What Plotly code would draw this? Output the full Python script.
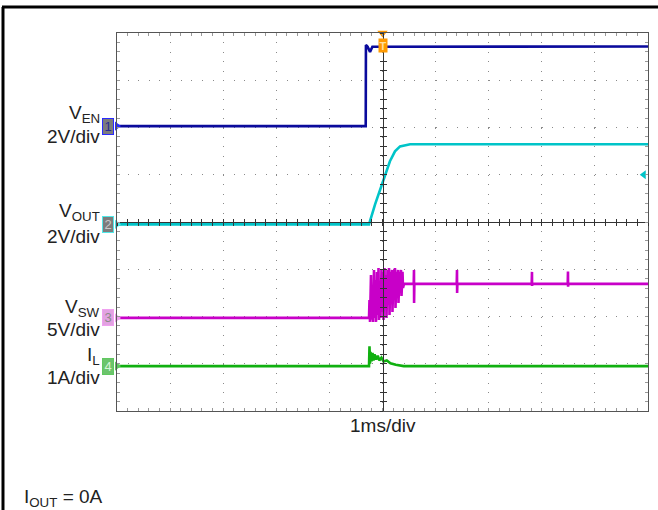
import plotly.graph_objects as go

# ---- data (time in ms, 1 ms/div; values in physical units) ----
t_range = [-5, 5]
div_range = [-4, 4]

# channel settings: scale per division, offset (div) of the channel's ground marker
ch_names = ["V<sub>EN</sub>", "V<sub>OUT</sub>", "V<sub>SW</sub>", "I<sub>L</sub>"]
ch_scales_txt = ["2V/div", "2V/div", "5V/div", "1A/div"]
ch_scale = [2.0, 2.0, 5.0, 1.0]
ch_offset = [2.03, -0.05, -2.03, -3.05]
ch_color = ["#0a0a9c", "#00c4c8", "#c800c8", "#10b010"]

ven_t = [-5, -0.316, -0.312, -0.28, -0.235, -0.19, 5]
ven_v = [0.0, 0.0, 3.43, 3.36, 3.14, 3.36, 3.37]

vout_t = [-5, -0.254, -0.14, -0.047, 0.047, 0.14, 0.235, 0.33, 0.52, 5]
vout_v = [0.0, 0.0, 0.85, 1.48, 2.12, 2.67, 3.09, 3.30, 3.39, 3.39]

vsw_t = [-5, -0.254, -0.245, -0.235, -0.217, -0.207, -0.188, -0.179, -0.160, -0.151,
         -0.132, -0.122, -0.104, -0.094, -0.075, -0.066, -0.047, -0.038, -0.019, -0.009,
         0.009, 0.019, 0.038, 0.047, 0.066, 0.075, 0.094, 0.104, 0.122, 0.132,
         0.151, 0.160, 0.179, 0.188, 0.207, 0.217, 0.235, 0.245, 0.264, 0.273,
         0.292, 0.301, 0.320, 0.330, 0.348, 0.358, 0.377, 0.386, 0.405,
         0.588, 0.593, 0.595, 0.600,
         1.398, 1.403, 1.405, 1.410,
         2.810, 2.815, 2.817, 2.822,
         3.488, 3.493, 3.495, 3.500, 5]
vsw_v = [0.0, 0.0, 1.9, -0.42, 4.55, -0.2, 2.96, -0.42, 5.08, 0.0,
         4.0, -0.42, 4.87, 0.32, 5.29, -0.21, 3.49, 0.0, 5.08, 0.63,
         4.87, -0.21, 5.29, 1.38, 4.55, 0.0, 5.08, 1.9, 5.29, 0.32,
         4.87, 2.33, 5.08, 0.63, 5.08, 1.9, 5.29, 1.06, 4.87, 2.75,
         5.08, 1.59, 4.87, 2.96, 5.08, 2.33, 4.87, 3.17, 3.6,
         3.6, 5.08, 1.59, 3.6,
         3.6, 5.08, 2.64, 3.6,
         3.6, 4.87, 3.39, 3.6,
         3.6, 4.9, 3.3, 3.6, 3.6]

il_t = [-5, -0.254, -0.245, -0.235, -0.226, -0.207, -0.188, -0.17, -0.15, -0.12,
        -0.09, -0.06, -0.02, 0.02, 0.08, 0.15, 0.25, 0.40, 5]
il_a = [0.0, 0.0, 0.42, 0.05, 0.30, 0.10, 0.28, 0.12, 0.25, 0.14,
        0.22, 0.12, 0.18, 0.10, 0.12, 0.06, 0.03, 0.0, 0.0]

trig_level_t = 4.92      # ch2 trigger level marker on the right edge
trig_level_div = 1.0

series = [(ven_t, ven_v), (vout_t, vout_v), (vsw_t, vsw_v), (il_t, il_a)]

FONT = "Arial, Liberation Sans, sans-serif"
fig = go.Figure()

for i, (tt, vv) in enumerate(series):
    yy = [ch_offset[i] + v / ch_scale[i] for v in vv]
    fig.add_trace(go.Scatter(x=tt, y=yy, mode="lines",
                             line=dict(color=ch_color[i], width=2.6),
                             hoverinfo="skip", showlegend=False))

# trigger markers
fig.add_trace(go.Scatter(x=[0], y=[div_range[1]], mode="markers", cliponaxis=False,
                         marker=dict(symbol="triangle-down", size=9, color="#ff9a00"),
                         hoverinfo="skip", showlegend=False))
fig.add_trace(go.Scatter(x=[trig_level_t], y=[trig_level_div], mode="markers",
                         cliponaxis=False,
                         marker=dict(symbol="triangle-left", size=8, color=ch_color[1]),
                         hoverinfo="skip", showlegend=False))
box_fill = ["#7c7c7c", "#7c7c7c", "#e2a2e2", "#6cc46c"]
box_border = ["#2a2aff", "#50e8e8", "#f0a0f0", "#60c860"]
box_text = ["#2a2a90", "#c8c8c8", "#8a8a8a", "#d8f4d8"]
# channel arrow tips
for i in range(4):
    fig.add_trace(go.Scatter(x=[t_range[0]], y=[ch_offset[i]], mode="markers",
                             cliponaxis=False,
                             marker=dict(symbol="triangle-right", size=8,
                                         color=box_border[i]),
                             hoverinfo="skip", showlegend=False))

# dummy traces for crosshair axes
for xa, ya in [("x2", "y2"), ("x3", "y3")]:
    fig.add_trace(go.Scatter(x=[None], y=[None], xaxis=xa, yaxis=ya,
                             showlegend=False, hoverinfo="skip"))

axis_common = dict(showticklabels=False, zeroline=False, fixedrange=True)

fig.update_layout(
    width=658, height=510,
    margin=dict(l=117, r=10, t=33, b=99),
    paper_bgcolor="white", plot_bgcolor="white",
    xaxis=dict(range=t_range, dtick=1, showgrid=True, gridcolor="#8a8a8a",
               griddash="1px,8.45px", gridwidth=1,
               showline=True, linecolor="#555555", linewidth=1, mirror="ticks",
               ticks="inside", ticklen=3, tickcolor="#999999",
               minor=dict(dtick=0.2, ticks="inside", ticklen=3, tickcolor="#999999",
                          showgrid=False),
               **axis_common),
    yaxis=dict(range=div_range, dtick=1, showgrid=True, gridcolor="#8a8a8a",
               griddash="1px,9.62px", gridwidth=1,
               showline=True, linecolor="#555555", linewidth=1, mirror="ticks",
               ticks="inside", ticklen=3, tickcolor="#999999",
               minor=dict(dtick=0.2, ticks="inside", ticklen=3, tickcolor="#999999",
                          showgrid=False),
               **axis_common),
    xaxis2=dict(range=t_range, overlaying="x", anchor="free", position=0.5,
                showgrid=False, showline=True, linecolor="#333333", linewidth=1,
                ticks="outside", ticklen=3, tickcolor="#333333",
                minor=dict(dtick=0.2, ticks="outside", ticklen=3, tickcolor="#333333"),
                **axis_common),
    yaxis2=dict(range=div_range, overlaying="y", anchor="free", position=0.5,
                showgrid=False, showline=True, linecolor="#333333", linewidth=1,
                ticks="outside", ticklen=3, tickcolor="#333333",
                minor=dict(dtick=0.2, ticks="outside", ticklen=3, tickcolor="#333333"),
                **axis_common),
    xaxis3=dict(range=t_range, overlaying="x", anchor="free", position=0.5,
                showgrid=False, showline=False,
                ticks="inside", ticklen=3, tickcolor="#333333",
                minor=dict(dtick=0.2, ticks="inside", ticklen=3, tickcolor="#333333"),
                **axis_common),
    yaxis3=dict(range=div_range, overlaying="y", anchor="free", position=0.5,
                showgrid=False, showline=False,
                ticks="inside", ticklen=3, tickcolor="#333333",
                minor=dict(dtick=0.2, ticks="inside", ticklen=3, tickcolor="#333333"),
                **axis_common),
)

# frame lines of the figure box
fig.add_shape(type="line", xref="paper", yref="paper", x0=-0.2166, x1=1.02,
              y0=1.0688, y1=1.0688, line=dict(color="black", width=3))
fig.add_shape(type="line", xref="paper", yref="paper", x0=-0.2147, x1=-0.2147,
              y0=1.0688, y1=-0.27, line=dict(color="black", width=3))

# channel labels and markers
name_shift = [12, 12, 10, 10]
scale_shift = [-10, -12, -12, -11]
for i in range(4):
    fig.add_annotation(x=t_range[0], y=ch_offset[i], xref="x", yref="y",
                       text=ch_names[i], showarrow=False, xanchor="right",
                       yanchor="middle", xshift=-16, yshift=name_shift[i],
                       borderpad=0,
                       font=dict(family=FONT, size=19, color="#222222"))
    fig.add_annotation(x=t_range[0], y=ch_offset[i], xref="x", yref="y",
                       text=ch_scales_txt[i], showarrow=False, xanchor="right",
                       yanchor="middle", xshift=-16, yshift=scale_shift[i],
                       borderpad=0,
                       font=dict(family=FONT, size=19, color="#222222"))
    fig.add_annotation(x=t_range[0], y=ch_offset[i], xref="x", yref="y",
                       text=str(i + 1), showarrow=False, xanchor="right",
                       yanchor="middle", xshift=-3, width=10, height=15,
                       bgcolor=box_fill[i], bordercolor=box_border[i], borderwidth=1,
                       borderpad=0,
                       font=dict(family=FONT, size=13, color=box_text[i]))

# trigger "T" marker
fig.add_annotation(x=0, y=div_range[1], xref="x", yref="y", text="<b>T</b>",
                   showarrow=False, xanchor="center", yanchor="top", yshift=-5,
                   width=8, height=13, bgcolor="#ff9a00", borderpad=0,
                   font=dict(family=FONT, size=11, color="#ffe0a0"))

fig.add_annotation(x=0, y=0, xref="x", yref="paper", text="1ms/div", showarrow=False,
                   xanchor="center", yanchor="top", yshift=-2,
                   font=dict(family=FONT, size=19, color="#222222"))
fig.add_annotation(x=-0.179, y=-0.23, xref="paper", yref="paper",
                   text="I<sub>OUT</sub> = 0A", showarrow=False,
                   xanchor="left", yanchor="middle",
                   font=dict(family=FONT, size=19, color="#222222"))

fig.write_html("out.html", config={"displayModeBar": False},
               post_script="document.body.style.margin='0';")
